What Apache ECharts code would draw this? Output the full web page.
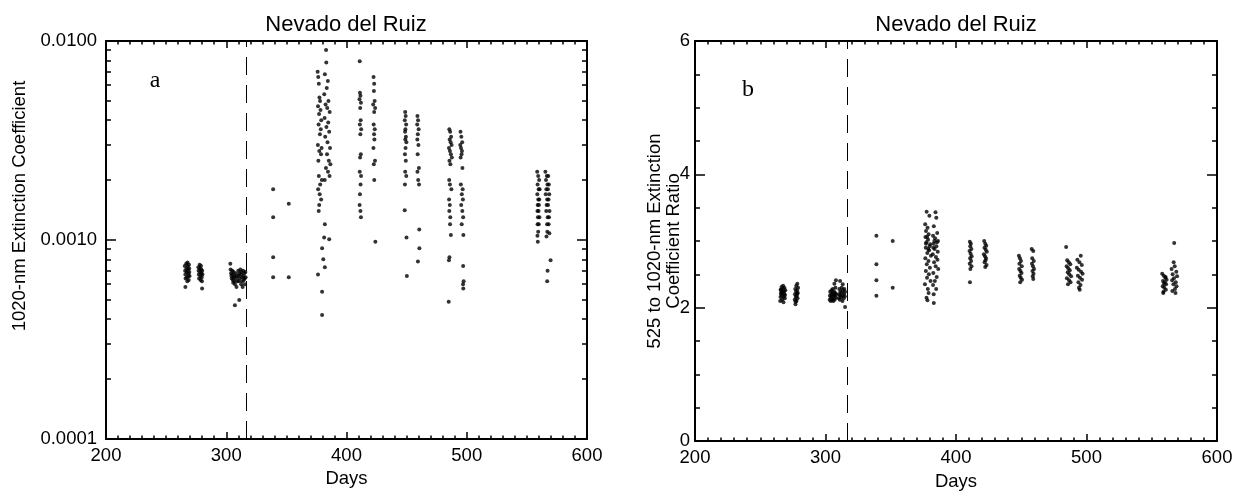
<!DOCTYPE html>
<html>
<head>
<meta charset="UTF-8">
<title>Nevado del Ruiz</title>
<script src="https://cdn.jsdelivr.net/npm/echarts@6/dist/echarts.min.js"></script>
<style>
	html, body { margin: 0; padding: 0; background: #fff; }
	#chart { width: 1238px; height: 494px; }
</style>
</head>
<body>
<div id="chart"></div>
<script>
	var dayTicks = [200, 300, 400, 500, 600];
	var extTicks = [0.0001, 0.001, 0.01];
	var extMinorTicks = [0.0002, 0.0003, 0.0004, 0.0005, 0.0006, 0.0007, 0.0008, 0.0009,
		0.002, 0.003, 0.004, 0.005, 0.006, 0.007, 0.008, 0.009];
	var ratioTicks = [0, 2, 4, 6];
	var eruptionDay = 316.5;

	// panel a: [day, 1020-nm extinction coefficient]
	var extinction = [
		[265.5,0.00074],[265.8,0.00070],[266.0,0.00067],[266.2,0.00064],[266.0,0.00058],[266.7,0.00076],[266.9,0.00072],
		[267.1,0.00069],[267.3,0.00065],[267.6,0.00062],[267.8,0.00077],[268.0,0.00074],[268.2,0.00071],[268.4,0.00068],
		[268.6,0.00066],[268.8,0.00063],[269.0,0.00075],[269.2,0.00072],[269.3,0.00069],[269.5,0.00066],
		[276.8,0.00073],[277.0,0.00070],[277.2,0.00067],[277.4,0.00064],[277.9,0.00075],[278.1,0.00072],[278.3,0.00069],
		[278.5,0.00066],[278.7,0.00063],[279.0,0.00074],[279.2,0.00071],[279.4,0.00068],[279.6,0.00065],[279.8,0.00062],
		[280.0,0.00070],[280.2,0.00067],[279.9,0.00057],
		[303.4,0.00076],[303.6,0.00071],[304.0,0.00068],[304.3,0.00066],[304.6,0.00064],[305.0,0.00070],[305.2,0.00067],
		[305.5,0.00063],[305.8,0.00061],[306.1,0.00069],[306.4,0.00065],[306.7,0.00062],[307.0,0.00066],[307.3,0.00060],
		[307.2,0.00047],[307.9,0.00068],[308.2,0.00064],[308.5,0.00058],[308.9,0.00066],[309.2,0.00062],
		[310.0,0.00070],[310.3,0.00066],[310.6,0.00062],[311.0,0.00068],[311.3,0.00064],[310.8,0.00050],[311.8,0.00071],
		[312.1,0.00067],[312.4,0.00060],[312.8,0.00069],[313.1,0.00065],[313.4,0.00062],[313.6,0.00058],[314.0,0.00070],
		[314.3,0.00066],[314.6,0.00063],[315.0,0.00068],[315.3,0.00064],[315.6,0.00060],[315.9,0.00069],[316.1,0.00065],
		[339,0.0018],[339,0.0013],[339,0.00082],[339,0.00065],[352,0.00152],[352,0.00065],
		[376.0,0.0070],[376.5,0.0066],[377.0,0.0061],[377.5,0.0052],[378.0,0.0050],[376.3,0.0047],[378.4,0.0045],
		[377.2,0.0043],[379.0,0.0040],[376.8,0.0038],[378.6,0.0036],[377.9,0.0034],[376.2,0.0030],[379.3,0.0029],
		[377.4,0.0028],[378.8,0.0027],[376.6,0.0025],[377.0,0.0021],[379.5,0.0020],[378.1,0.0019],[376.4,0.0018],
		[377.7,0.0017],[378.9,0.0016],[377.3,0.0015],[376.9,0.0014],[379.7,0.00091],[380.7,0.00080],[376.3,0.00067],
		[379.7,0.00055],[379.7,0.00042],
		[383.0,0.0090],[383.2,0.0078],[382.0,0.0068],[384.5,0.0063],[383.6,0.0058],[381.5,0.0054],[385.0,0.0050],
		[382.6,0.0048],[384.0,0.0046],[386.0,0.0044],[381.8,0.0041],[384.8,0.0039],[383.3,0.0037],[385.6,0.0035],
		[382.3,0.0033],[384.2,0.0031],[386.3,0.0029],[383.8,0.0027],[385.3,0.0025],[386.6,0.0024],[382.9,0.0023],
		[384.6,0.0022],[385.9,0.0021],[381.9,0.0020],[382.0,0.0012],[381.4,0.00103],[385.6,0.00101],[382.0,0.00073],
		[411.0,0.0079],[411.2,0.0055],[411.6,0.0053],[410.8,0.0051],[412.0,0.0049],[411.4,0.0046],[411.8,0.0040],
		[411.1,0.0038],[412.2,0.0036],[411.5,0.0034],[411.9,0.0027],[411.3,0.0026],[411.0,0.0022],[412.1,0.0021],
		[411.7,0.0019],[411.2,0.0017],[410.9,0.0015],[411.6,0.0014],[412.0,0.0013],
		[422.5,0.0066],[423.0,0.0061],[422.8,0.0056],[423.4,0.0050],[422.2,0.0048],[423.8,0.0046],[423.0,0.0044],
		[422.6,0.0038],[423.5,0.0036],[422.9,0.0034],[423.2,0.0032],[422.4,0.0029],[423.7,0.0025],[422.7,0.0024],
		[423.1,0.0020],[424.0,0.00098],
		[448.8,0.0044],[449.2,0.0042],[448.5,0.0040],[449.6,0.0038],[449.0,0.0036],[448.7,0.0035],[449.4,0.0033],
		[448.9,0.0032],[449.8,0.0031],[449.1,0.0029],[448.6,0.0027],[449.3,0.0025],[448.8,0.0022],[449.7,0.0021],
		[448.6,0.0019],[448.4,0.00141],[449.9,0.00103],[450.2,0.00066],
		[459.0,0.0042],[459.5,0.0040],[458.8,0.0038],[460.0,0.0036],[459.3,0.0034],[458.9,0.0032],[459.8,0.0030],
		[459.2,0.0027],[460.2,0.0023],[459.0,0.0022],[459.6,0.0020],[460.3,0.0019],[460.5,0.00113],[460.6,0.00091],
		[459.4,0.00078],
		[485.5,0.0036],[486.2,0.0035],[487.0,0.0033],[485.8,0.0032],[486.6,0.0031],[487.4,0.0030],[485.2,0.0029],
		[486.0,0.0028],[486.8,0.0027],[487.6,0.0026],[485.6,0.0025],[486.4,0.0024],[485.4,0.0020],[486.0,0.0019],
		[487.2,0.0018],[485.3,0.0016],[485.9,0.0015],[485.5,0.0014],[486.3,0.0013],[486.1,0.0012],[486.8,0.00106],
		[485.6,0.00082],[485.2,0.00079],[485.0,0.00049],
		[494.8,0.0035],[495.5,0.0033],[496.2,0.0031],[494.6,0.0030],[495.2,0.0029],[496.0,0.0028],[495.7,0.0027],
		[494.9,0.0026],[496.4,0.0023],[495.1,0.0019],[496.6,0.0018],[495.9,0.0017],[496.8,0.0016],[495.4,0.0015],
		[496.3,0.0014],[497.0,0.0013],[495.8,0.0012],[497.2,0.00106],[497.0,0.00074],[497.4,0.00062],[496.9,0.00060],
		[497.1,0.00057],
		[558.6,0.0022],[559.4,0.0021],[560.2,0.0020],[558.9,0.0019],[559.8,0.0018],[560.6,0.0018],[558.7,0.0017],
		[559.5,0.0016],[560.3,0.0016],[559.0,0.0015],[560.0,0.0015],[558.8,0.0014],[559.7,0.0014],[560.4,0.0013],
		[559.2,0.0013],[558.9,0.0012],[559.9,0.0012],[559.4,0.0011],[558.8,0.00105],[559.1,0.00098],
		[565.4,0.0022],[566.6,0.0021],[567.8,0.0021],[565.9,0.0020],[567.1,0.0019],[568.3,0.0019],[566.2,0.0018],
		[567.5,0.0018],[568.6,0.0017],[565.7,0.0017],[566.9,0.0016],[568.0,0.0016],[566.4,0.0015],[567.6,0.0015],
		[568.8,0.0014],[566.1,0.0014],[567.3,0.0013],[568.4,0.0013],[566.8,0.0012],[568.1,0.0012],[567.0,0.0011],
		[568.7,0.00108],[566.3,0.00104],[569.7,0.00079],[567.2,0.00070],[566.9,0.00062]
	];

	// panel b: [day, 525 to 1020-nm extinction coefficient ratio]
	var ratio = [
		[265.3,2.10],[265.5,2.16],[265.8,2.21],[266.0,2.26],[266.3,2.31],[266.5,2.18],[266.8,2.12],[267.0,2.23],
		[267.3,2.28],[267.5,2.33],[267.8,2.08],[268.0,2.16],[268.3,2.24],[268.5,2.30],[268.8,2.14],[269.0,2.19],
		[269.2,2.26],[266.2,2.22],[268.2,2.20],[265.6,2.27],
		[276.4,2.12],[276.6,2.20],[276.8,2.28],[277.0,2.05],[277.2,2.16],[277.4,2.24],[277.6,2.33],[277.8,2.10],
		[278.0,2.18],[278.2,2.26],[278.4,2.36],[278.6,2.14],[278.8,2.22],[279.0,2.30],[277.1,2.09],[278.3,2.21],
		[303.2,2.12],[303.4,2.18],[303.6,2.24],[304.0,2.10],[304.2,2.15],[304.4,2.20],[304.6,2.26],[305.0,2.12],
		[305.2,2.17],[305.4,2.22],[305.6,2.28],[306.0,2.10],[306.2,2.14],[306.4,2.19],[306.6,2.24],[307.0,2.12],
		[307.2,2.18],[307.4,2.22],[307.6,2.30],[308.0,2.15],[308.2,2.20],[308.0,2.41],[306.8,2.36],
		[310.2,2.14],[310.4,2.20],[310.6,2.28],[311.0,2.12],[311.2,2.18],[311.4,2.24],[311.2,2.40],[312.0,2.16],
		[312.2,2.22],[312.4,2.30],[313.0,2.10],[313.2,2.18],[313.4,2.26],[313.2,2.35],[314.0,2.14],[314.2,2.21],
		[314.4,2.28],[315.0,2.01],[314.8,2.17],[315.0,2.24],
		[339,3.08],[339,2.65],[339,2.41],[339,2.18],[351.5,3.00],[351.5,2.30],
		[377.5,3.44],[379.6,3.38],[376.4,3.25],[378.2,3.20],[377.0,3.15],[379.0,3.10],[376.6,3.06],[378.6,3.02],
		[377.3,2.98],[380.2,2.95],[376.8,2.90],[379.4,2.86],[378.0,2.82],[380.8,2.78],[376.5,2.74],[378.9,2.70],
		[377.6,2.65],[380.0,2.60],[376.9,2.55],[379.2,2.50],[377.8,2.45],[380.5,2.40],[376.2,2.35],[378.4,2.28],
		[379.0,2.22],[377.4,2.15],[378.1,2.11],[377.0,2.96],[378.7,2.88],[379.8,2.92],[377.9,3.06],
		[384.3,3.43],[384.9,3.35],[383.0,3.22],[385.6,3.12],[382.4,3.08],[384.0,3.04],[386.2,3.00],[382.8,2.96],
		[385.0,2.92],[383.6,2.88],[386.0,2.84],[382.2,2.80],[384.6,2.76],[385.8,2.72],[383.2,2.68],[384.4,2.62],
		[386.4,2.58],[382.6,2.52],[385.2,2.46],[383.8,2.40],[382.4,2.34],[384.8,2.28],[382.9,2.20],[383.0,2.07],
		[383.4,3.00],[385.4,2.98],[382.6,2.90],
		[410.6,2.99],[411.4,2.96],[410.9,2.92],[411.8,2.88],[410.4,2.85],[411.2,2.81],[412.0,2.77],[410.8,2.74],
		[411.6,2.70],[410.5,2.66],[411.9,2.62],[411.0,2.58],[410.7,2.38],
		[421.6,3.00],[422.4,2.96],[423.2,2.93],[421.8,2.90],[422.8,2.87],[423.6,2.84],[421.4,2.80],[422.2,2.77],
		[423.0,2.74],[422.6,2.71],[421.9,2.68],[423.4,2.64],[422.4,2.61],
		[448.2,2.78],[449.0,2.74],[449.8,2.70],[448.6,2.66],[450.4,2.62],[448.4,2.58],[449.4,2.55],[450.2,2.52],
		[448.8,2.48],[449.6,2.45],[450.6,2.42],[449.2,2.38],
		[458.0,2.88],[459.2,2.85],[458.4,2.74],[459.6,2.70],[458.2,2.66],[459.0,2.62],[459.8,2.58],[458.6,2.55],
		[459.4,2.51],[458.8,2.47],[459.2,2.43],
		[484.4,2.91],[485.2,2.71],[486.4,2.68],[487.6,2.65],[484.8,2.62],[486.0,2.59],[487.2,2.56],[485.6,2.53],
		[486.8,2.50],[488.2,2.47],[485.0,2.44],[486.6,2.41],[487.8,2.38],[485.8,2.35],
		[495.6,2.78],[493.0,2.72],[494.6,2.68],[496.4,2.64],[492.6,2.60],[494.0,2.57],[495.8,2.54],[497.0,2.51],
		[493.4,2.48],[495.0,2.45],[496.6,2.42],[493.8,2.38],[495.4,2.34],[494.2,2.30],[494.8,2.27],
		[558.0,2.51],[559.2,2.48],[560.4,2.45],[561.4,2.42],[558.6,2.40],[560.0,2.38],[561.0,2.35],[558.4,2.32],
		[559.6,2.30],[560.8,2.27],[559.0,2.24],[558.8,2.22],[560.6,2.46],[559.4,2.36],
		[567.2,2.97],[566.8,2.68],[567.6,2.62],[565.2,2.58],[568.8,2.54],[566.0,2.50],[569.4,2.47],[567.0,2.44],
		[565.6,2.41],[568.4,2.38],[566.6,2.35],[569.0,2.32],[567.8,2.28],[565.8,2.25],[568.2,2.22]
	];

	var font = 'Liberation Sans';
	var black = '#000';
	var fs = 18.5;

	function dayAxis(grid, pos, labelled) {
		return {
			type: 'value',
			gridIndex: grid,
			position: pos,
			min: dayTicks[0],
			max: dayTicks[dayTicks.length - 1],
			interval: dayTicks[1] - dayTicks[0],
			name: labelled ? 'Days' : '',
			nameLocation: 'middle',
			nameGap: grid === 0 ? 25 : 31,
			nameTextStyle: { color: black, fontFamily: font, fontSize: fs },
			axisLine: { show: true, onZero: false, lineStyle: { color: black, width: 2 } },
			axisTick: { show: true, inside: true, length: 7, lineStyle: { color: black, width: 1.5 } },
			minorTick: { show: true, splitNumber: 10, length: 3.5, lineStyle: { color: black, width: 1.5 } },
			axisLabel: { show: labelled, margin: 7, color: black, fontFamily: font, fontSize: fs },
			splitLine: { show: false }
		};
	}

	function extAxis(pos, labelled) {
		return {
			type: 'log',
			logBase: 10,
			gridIndex: 0,
			position: pos,
			min: extTicks[0],
			max: extTicks[extTicks.length - 1],
			name: labelled ? '1020-nm Extinction Coefficient' : '',
			nameLocation: 'middle',
			nameRotate: 90,
			nameGap: 77,
			nameMoveOverlap: false,
			nameTextStyle: { color: black, fontFamily: font, fontSize: fs, padding: [0, 0, 0, 68] },
			axisLine: { show: true, onZero: false, lineStyle: { color: black, width: 2 } },
			axisTick: { show: true, inside: true, length: 10, lineStyle: { color: black, width: 1.5 } },
			axisLabel: {
				show: labelled, margin: 9, color: black, fontFamily: font, fontSize: fs,
				formatter: function (v) { return Number(v).toFixed(4); }
			},
			splitLine: { show: false }
		};
	}

	function extMinorAxis(pos) {
		return {
			type: 'log',
			logBase: 10,
			gridIndex: 0,
			position: pos,
			min: extTicks[0],
			max: extTicks[extTicks.length - 1],
			axisLine: { show: false },
			axisTick: { show: true, inside: true, length: 5, customValues: extMinorTicks, lineStyle: { color: black, width: 1.5 } },
			axisLabel: { show: false },
			splitLine: { show: false }
		};
	}

	function ratioAxis(pos, labelled) {
		return {
			type: 'value',
			gridIndex: 1,
			position: pos,
			min: ratioTicks[0],
			max: ratioTicks[ratioTicks.length - 1],
			interval: ratioTicks[1] - ratioTicks[0],
			name: labelled ? '525 to 1020-nm Extinction\nCoefficient Ratio' : '',
			nameLocation: 'middle',
			nameRotate: 90,
			nameGap: 12,
			nameMoveOverlap: false,
			nameTextStyle: { color: black, fontFamily: font, fontSize: fs, lineHeight: 19 },
			axisLine: { show: true, onZero: false, lineStyle: { color: black, width: 2 } },
			axisTick: { show: true, inside: true, length: 10, lineStyle: { color: black, width: 1.5 } },
			minorTick: { show: true, splitNumber: 4, length: 5, lineStyle: { color: black, width: 1.5 } },
			axisLabel: { show: labelled, margin: 5, color: black, fontFamily: font, fontSize: fs },
			splitLine: { show: false }
		};
	}

	function label(text, x, y, f) {
		return {
			type: 'text', x: x, y: y, silent: true,
			style: { text: text, fill: black, font: f, textAlign: 'center', textVerticalAlign: 'middle' }
		};
	}

	var chart = echarts.init(document.getElementById('chart'));
	chart.setOption({
		animation: false,
		backgroundColor: '#fff',
		grid: [
			{ left: 106, top: 41, width: 481, height: 398, containLabel: false, outerBoundsMode: 'none' },
			{ left: 695, top: 41, width: 522, height: 400, containLabel: false, outerBoundsMode: 'none' }
		],
		xAxis: [
			dayAxis(0, 'bottom', true),
			dayAxis(0, 'top', false),
			dayAxis(1, 'bottom', true),
			dayAxis(1, 'top', false)
		],
		yAxis: [
			extAxis('left', true),
			extAxis('right', false),
			extMinorAxis('left'),
			extMinorAxis('right'),
			ratioAxis('left', true),
			ratioAxis('right', false)
		],
		graphic: [
			label('Nevado del Ruiz', 346, 25, '22px "Liberation Sans"'),
			label('Nevado del Ruiz', 956, 25, '22px "Liberation Sans"'),
			label('a', 155, 81, '24px "Liberation Serif"'),
			label('b', 748, 90, '24px "Liberation Serif"')
		],
		series: [
			{
				type: 'scatter', xAxisIndex: 0, yAxisIndex: 0, data: extinction,
				symbolSize: 4, itemStyle: { color: black }, silent: true,
				markLine: {
					silent: true, symbol: ['none', 'none'], label: { show: false },
					lineStyle: { color: black, width: 1, type: [18, 10] },
					data: [{ xAxis: eruptionDay }]
				}
			},
			{
				type: 'scatter', xAxisIndex: 2, yAxisIndex: 4, data: ratio,
				symbolSize: 4, itemStyle: { color: black }, silent: true,
				markLine: {
					silent: true, symbol: ['none', 'none'], label: { show: false },
					lineStyle: { color: black, width: 1, type: [18, 10] },
					data: [{ xAxis: eruptionDay }]
				}
			}
		]
	});
</script>
</body>
</html>
